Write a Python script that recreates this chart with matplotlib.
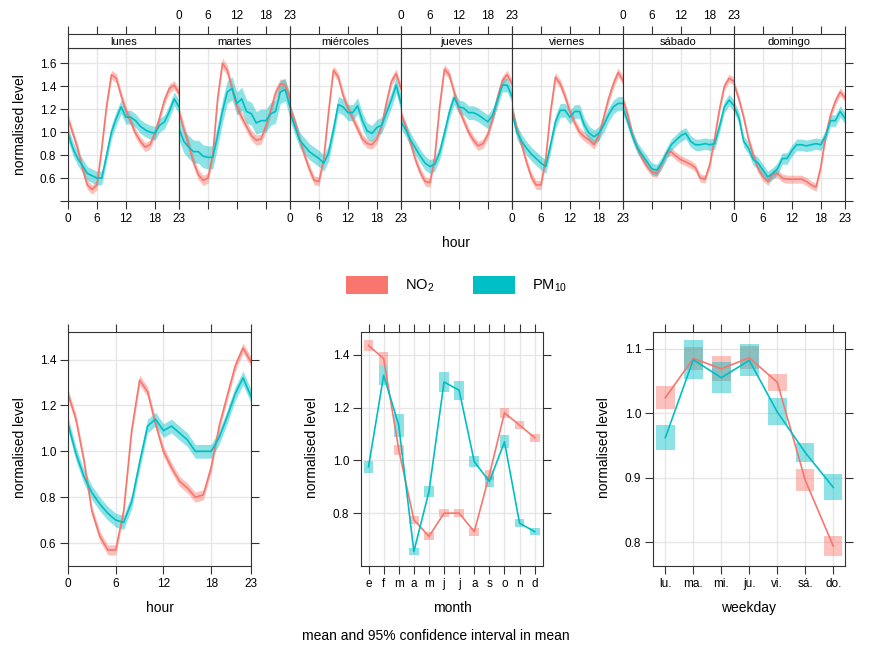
import matplotlib
matplotlib.use('Agg')
import matplotlib.pyplot as plt
from matplotlib.patches import Rectangle

plt.rcParams['font.family'] = ['Liberation Sans', 'DejaVu Sans']
plt.rcParams['mathtext.fontset'] = 'custom'
plt.rcParams['mathtext.rm'] = 'Liberation Sans'

NO2_COL = '#F8766D'
PM_COL = '#00BFC4'

hours = list(range(24))
days = ['lunes', 'martes', 'miércoles', 'jueves', 'viernes', 'sábado', 'domingo']

# hour x weekday, normalised
no2_lunes = [1.12, 0.99, 0.86, 0.68, 0.54, 0.50, 0.54, 0.86, 1.23, 1.50, 1.47, 1.32, 1.19, 1.09, 0.99, 0.92, 0.87, 0.89, 0.99, 1.13, 1.28, 1.38, 1.41, 1.34]
no2_martes = [1.18, 1.03, 0.89, 0.74, 0.63, 0.58, 0.60, 0.80, 1.29, 1.60, 1.54, 1.38, 1.22, 1.13, 1.05, 0.97, 0.93, 0.94, 1.05, 1.19, 1.34, 1.42, 1.41, 1.29]
no2_miercoles = [1.21, 1.09, 0.94, 0.80, 0.68, 0.58, 0.57, 0.77, 1.18, 1.54, 1.48, 1.32, 1.21, 1.12, 1.03, 0.94, 0.90, 0.89, 0.94, 1.06, 1.26, 1.44, 1.51, 1.38]
no2_jueves = [1.16, 1.05, 0.90, 0.76, 0.65, 0.57, 0.56, 0.78, 1.22, 1.55, 1.50, 1.35, 1.20, 1.10, 1.00, 0.93, 0.88, 0.90, 0.98, 1.12, 1.30, 1.45, 1.50, 1.42]
no2_viernes = [1.21, 1.03, 0.89, 0.74, 0.61, 0.54, 0.54, 0.77, 1.18, 1.48, 1.42, 1.31, 1.18, 1.08, 1.00, 0.96, 0.93, 0.89, 0.97, 1.13, 1.29, 1.42, 1.52, 1.45]
no2_sabado = [1.28, 1.15, 0.97, 0.86, 0.77, 0.70, 0.65, 0.64, 0.72, 0.82, 0.83, 0.79, 0.76, 0.74, 0.72, 0.69, 0.60, 0.59, 0.72, 0.95, 1.20, 1.40, 1.47, 1.44]
no2_domingo = [1.42, 1.29, 1.13, 0.94, 0.80, 0.68, 0.61, 0.57, 0.63, 0.64, 0.60, 0.59, 0.59, 0.59, 0.59, 0.57, 0.54, 0.52, 0.70, 0.97, 1.15, 1.27, 1.35, 1.30]

pm10_lunes = [0.99, 0.86, 0.77, 0.71, 0.64, 0.62, 0.60, 0.60, 0.80, 1.00, 1.12, 1.22, 1.13, 1.13, 1.10, 1.05, 1.02, 1.00, 0.99, 1.06, 1.09, 1.18, 1.29, 1.22]
pm10_martes = [1.03, 0.92, 0.87, 0.83, 0.83, 0.79, 0.78, 0.78, 0.97, 1.18, 1.35, 1.38, 1.25, 1.29, 1.18, 1.16, 1.08, 1.10, 1.10, 1.16, 1.18, 1.35, 1.37, 1.22]
pm10_miercoles = [1.17, 1.05, 0.93, 0.88, 0.83, 0.80, 0.77, 0.73, 0.82, 1.02, 1.24, 1.22, 1.17, 1.17, 1.23, 1.10, 1.01, 0.99, 1.04, 1.06, 1.17, 1.28, 1.41, 1.25]
pm10_jueves = [1.09, 1.02, 0.93, 0.86, 0.79, 0.73, 0.70, 0.72, 0.82, 0.99, 1.17, 1.30, 1.22, 1.21, 1.17, 1.17, 1.15, 1.12, 1.09, 1.15, 1.28, 1.41, 1.41, 1.31]
pm10_viernes = [1.18, 1.00, 0.92, 0.86, 0.81, 0.77, 0.73, 0.70, 0.89, 1.09, 1.19, 1.19, 1.13, 1.18, 1.18, 1.06, 0.99, 0.96, 0.99, 1.06, 1.15, 1.22, 1.25, 1.25]
pm10_sabado = [1.21, 1.09, 0.96, 0.86, 0.80, 0.74, 0.68, 0.67, 0.73, 0.81, 0.89, 0.93, 0.97, 0.99, 0.92, 0.89, 0.89, 0.90, 0.89, 0.90, 1.05, 1.22, 1.28, 1.23]
pm10_domingo = [1.22, 1.13, 0.92, 0.86, 0.76, 0.73, 0.67, 0.61, 0.64, 0.68, 0.77, 0.77, 0.84, 0.89, 0.89, 0.88, 0.89, 0.90, 0.89, 0.97, 1.10, 1.10, 1.18, 1.12]

# ci half-widths per weekday panel
no2_day_ci = [0.04, 0.045, 0.04, 0.04, 0.04, 0.035, 0.035]
pm10_day_ci = [0.06, 0.10, 0.07, 0.06, 0.06, 0.05, 0.05]

# hour of day
no2_hour = [1.25, 1.14, 0.96, 0.74, 0.63, 0.57, 0.57, 0.74, 1.09, 1.31, 1.26, 1.12, 1.00, 0.93, 0.87, 0.84, 0.80, 0.81, 0.93, 1.11, 1.24, 1.37, 1.45, 1.39]
pm10_hour = [1.12, 0.99, 0.89, 0.82, 0.77, 0.73, 0.70, 0.69, 0.78, 0.95, 1.11, 1.14, 1.09, 1.11, 1.08, 1.05, 1.00, 1.00, 1.00, 1.06, 1.15, 1.25, 1.32, 1.24]
no2_hour_ci = 0.022
pm10_hour_ci = 0.03

# month
months = ['e', 'f', 'm', 'a', 'm', 'j', 'j', 'a', 's', 'o', 'n', 'd']
no2_month = [1.435, 1.385, 1.04, 0.775, 0.712, 0.80, 0.80, 0.73, 0.945, 1.18, 1.133, 1.086]
no2_month_ci = [0.022, 0.025, 0.02, 0.015, 0.015, 0.015, 0.015, 0.015, 0.02, 0.02, 0.016, 0.015]
pm10_month = [0.976, 1.322, 1.133, 0.655, 0.882, 1.297, 1.265, 0.995, 0.92, 1.07, 0.762, 0.73]
pm10_month_ci = [0.022, 0.038, 0.044, 0.015, 0.02, 0.038, 0.036, 0.02, 0.02, 0.025, 0.016, 0.012]

# weekday
wdays = ['lu.', 'ma.', 'mi.', 'ju.', 'vi.', 'sá.', 'do.']
no2_wday = [1.024, 1.085, 1.069, 1.086, 1.048, 0.896, 0.794]
no2_wday_ci = [0.018, 0.018, 0.019, 0.018, 0.013, 0.017, 0.015]
pm10_wday = [0.962, 1.083, 1.055, 1.082, 1.002, 0.939, 0.885]
pm10_wday_ci = [0.019, 0.03, 0.024, 0.025, 0.021, 0.015, 0.02]

no2_days = [no2_lunes, no2_martes, no2_miercoles, no2_jueves, no2_viernes, no2_sabado, no2_domingo]
pm10_days = [pm10_lunes, pm10_martes, pm10_miercoles, pm10_jueves, pm10_viernes, pm10_sabado, pm10_domingo]

W, H = 871, 659
GRID = '#E6E6E6'
FRAME = '#333333'


def box(x0, y0, x1, y1):
    return [x0 / W, 1 - y1 / H, (x1 - x0) / W, (y1 - y0) / H]


def style(ax):
    for s in ax.spines.values():
        s.set_color(FRAME)
        s.set_linewidth(0.8)
    ax.tick_params(direction='out', length=5.5, width=0.8, colors=FRAME,
                   labelcolor='black', labelsize=8.5, pad=3)
    ax.grid(True, color=GRID, lw=1)
    ax.set_axisbelow(True)


def ribbon(ax, x, y, ci, col):
    lo = [v - c for v, c in zip(y, ci)]
    hi = [v + c for v, c in zip(y, ci)]
    ax.fill_between(x, lo, hi, color=col, alpha=0.45, lw=0)
    ax.plot(x, y, color=col, lw=1.2)


def boxes(ax, y, ci, col, hw):
    for i, (v, c) in enumerate(zip(y, ci)):
        ax.add_patch(Rectangle((i + 1 - hw, v - c), 2 * hw, 2 * c,
                               facecolor=col, alpha=0.45, lw=0))
    ax.plot(range(1, len(y) + 1), y, color=col, lw=1.2)


fig = plt.figure(figsize=(W / 100, H / 100), dpi=100)

# top: hour by weekday
pw = (845 - 68) / 7
for i, day in enumerate(days):
    x0 = 68 + i * pw
    ax = fig.add_axes(box(x0, 48, x0 + pw, 201))
    style(ax)
    ribbon(ax, hours, no2_days[i], [no2_day_ci[i]] * 24, NO2_COL)
    ribbon(ax, hours, pm10_days[i], [pm10_day_ci[i]] * 24, PM_COL)
    ax.set_xlim(0, 23)
    ax.set_ylim(0.4, 1.733)
    ax.set_xticks([0, 6, 12, 18, 23])
    ax.set_yticks([0.4, 0.6, 0.8, 1.0, 1.2, 1.4, 1.6])
    ax.set_yticklabels(['', '0.6', '0.8', '1.0', '1.2', '1.4', '1.6'])
    ax.tick_params(left=(i == 0), labelleft=(i == 0), right=(i == 6), labelright=False,
                   labelbottom=(i % 2 == 0))
    st = fig.add_axes(box(x0, 34, x0 + pw, 48))
    for s in st.spines.values():
        s.set_color(FRAME)
        s.set_linewidth(0.8)
    st.set_xlim(0, 23)
    st.set_ylim(0, 1)
    st.set_yticks([])
    st.set_xticks([0, 6, 12, 18, 23])
    st.tick_params(direction='out', length=5.5, width=0.8, colors=FRAME, labelcolor='black',
                   labelsize=8.5, pad=3, bottom=False, labelbottom=False, top=True,
                   labeltop=(i % 2 == 1))
    st.text(11.5, 0.45, day, ha='center', va='center', fontsize=8)

fig.text(456 / W, 1 - 243 / H, 'hour', ha='center', va='center', fontsize=10)
fig.text(20 / W, 1 - 125 / H, 'normalised level', ha='center', va='center',
         rotation=90, fontsize=10)

# legend
fig.add_artist(Rectangle((346 / W, 1 - 294 / H), 42 / W, 18 / H, transform=fig.transFigure,
                         facecolor=NO2_COL, edgecolor='none'))
fig.text(405 / W, 1 - 286 / H, 'NO$_2$', ha='left', va='center', fontsize=10.5)
fig.add_artist(Rectangle((473 / W, 1 - 294 / H), 42 / W, 18 / H, transform=fig.transFigure,
                         facecolor=PM_COL, edgecolor='none'))
fig.text(532 / W, 1 - 286 / H, 'PM$_{10}$', ha='left', va='center', fontsize=10.5)

# bottom left: hour
ax = fig.add_axes(box(68, 332, 251, 566))
style(ax)
ribbon(ax, hours, no2_hour, [no2_hour_ci] * 24, NO2_COL)
ribbon(ax, hours, pm10_hour, [pm10_hour_ci] * 24, PM_COL)
ax.set_xlim(0, 23)
ax.set_ylim(0.5, 1.52)
ax.set_xticks([0, 6, 12, 18, 23])
ax.set_yticks([0.6, 0.8, 1.0, 1.2, 1.4])
ax.tick_params(top=True, right=True)

# bottom middle: month
ax = fig.add_axes(box(361, 332, 543, 566))
style(ax)
boxes(ax, no2_month, no2_month_ci, NO2_COL, 0.32)
boxes(ax, pm10_month, pm10_month_ci, PM_COL, 0.32)
ax.set_xlim(0.5, 12.55)
ax.set_ylim(0.60, 1.486)
ax.set_xticks(range(1, 13))
ax.set_xticklabels(months)
ax.set_yticks([0.8, 1.0, 1.2, 1.4])
ax.tick_params(top=True, right=True)

# bottom right: weekday
ax = fig.add_axes(box(653, 332, 845, 566))
style(ax)
boxes(ax, no2_wday, no2_wday_ci, NO2_COL, 0.33)
boxes(ax, pm10_wday, pm10_wday_ci, PM_COL, 0.33)
ax.set_xlim(0.56, 7.42)
ax.set_ylim(0.763, 1.126)
ax.set_xticks(range(1, 8))
ax.set_xticklabels(wdays)
ax.set_yticks([0.8, 0.9, 1.0, 1.1])
ax.tick_params(top=True, right=True)

for xc, lab in [(160, 'hour'), (452, 'month'), (749, 'weekday')]:
    fig.text(xc / W, 1 - 608 / H, lab, ha='center', va='center', fontsize=10)
for xc in [20, 312, 604]:
    fig.text(xc / W, 1 - 448 / H, 'normalised level', ha='center', va='center',
             rotation=90, fontsize=10)
fig.text(436 / W, 1 - 636 / H, 'mean and 95% confidence interval in mean',
         ha='center', va='center', fontsize=10)

fig.savefig('out.png', dpi=100)
